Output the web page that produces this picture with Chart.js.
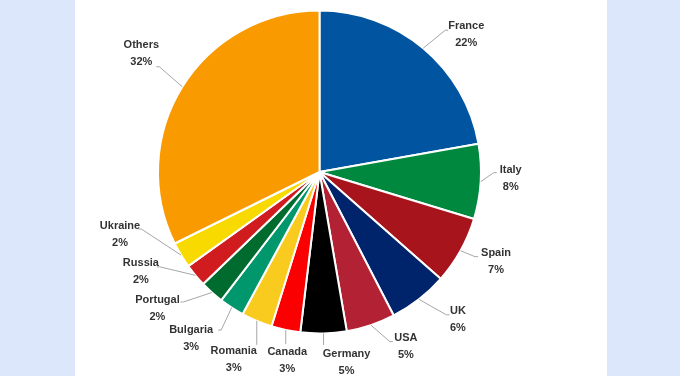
<!DOCTYPE html>
<html>
<head>
<meta charset="utf-8">
<script src="https://cdn.jsdelivr.net/npm/chart.js@4.4.1/dist/chart.umd.min.js"></script>
<style>
    html, body { margin: 0; padding: 0; }
    body { width: 680px; height: 376px; background: #dce7fb; position: relative; overflow: hidden; }
    #panel { position: absolute; left: 75px; top: 0; width: 532px; height: 376px; background: #ffffff; }
    #wrap { position: absolute; left: 0; top: 0; width: 680px; height: 376px; }
</style>
</head>
<body>
<div id="panel"></div>
<div id="wrap"><canvas id="pieChart" width="680" height="376"></canvas></div>
<script>
// Country names, clockwise from 12 o'clock
const countries = ['France', 'Italy', 'Spain', 'UK', 'USA', 'Germany', 'Canada',
    'Romania', 'Bulgaria', 'Portugal', 'Russia', 'Ukraine', 'Others'];
// Share of each slice as it is drawn
const shares = [22.2, 7.5, 6.8, 5.9, 4.9, 4.6, 2.9, 3.1, 2.5, 2.4, 2.3, 2.6, 32.3];
// Percent text printed in the labels
const shownPct = ['22%', '8%', '7%', '6%', '5%', '5%', '3%', '3%', '3%', '2%', '2%', '2%', '32%'];
const sliceColors = ['#0054a0', '#00893e', '#a8141c', '#00246b', '#b22234', '#000000', '#fb0000',
    '#f8cb1e', '#00976c', '#006b2e', '#d01c1f', '#f8da00', '#f99a00'];

// Label layout, relative to the slice's mid point on the rim:
// [leader end dx, dy, text centre dx, dy (first line)]
const labelLayout = [
    [22, -18, 43, -22],
    [13, -9, 30, -12],
    [14.5, 6, 35.5, 2],
    [27.5, 15.5, 39, 12],
    [19, 16.5, 35, 13],
    [0, 11.5, 23, 20.5],
    [0, 14, 1.5, 22.5],
    [0, 24, -23, 30],
    [-10.5, 22.5, -40.5, 22.5],
    [-28.5, 9.5, -54.5, 7],
    [-35.5, -8.5, -54.5, -12],
    [-39.5, -26, -61, -29],
    [-23, -20, -41, -41.5]
];

// Draws the outside labels with their grey leader lines
const leaderLabels = {
    id: 'leaderLabels',
    afterDatasetsDraw(chart) {
        const ctx = chart.ctx;
        const meta = chart.getDatasetMeta(0);
        ctx.save();
        ctx.font = 'bold 11px "Liberation Sans", Arial, sans-serif';
        ctx.textAlign = 'center';
        ctx.textBaseline = 'middle';
        meta.data.forEach((arc, i) => {
            const p = arc.getProps(['x', 'y', 'startAngle', 'endAngle', 'outerRadius'], true);
            const mid = (p.startAngle + p.endAngle) / 2;
            const ex = p.x + Math.cos(mid) * p.outerRadius;
            const ey = p.y + Math.sin(mid) * p.outerRadius;
            const [lx, ly, tx, ty] = labelLayout[i];

            ctx.strokeStyle = '#a6a6a6';
            ctx.lineWidth = 1;
            ctx.beginPath();
            ctx.moveTo(ex, ey);
            ctx.lineTo(ex + lx, ey + ly);
            if (lx !== 0) {
                ctx.lineTo(ex + lx + (lx > 0 ? 3 : -3), ey + ly);
            }
            ctx.stroke();

            ctx.fillStyle = '#333333';
            ctx.fillText(chart.data.labels[i], ex + tx, ey + ty);
            ctx.fillText(shownPct[i], ex + tx, ey + ty + 17);
        });
        ctx.restore();
    }
};

const chart = new Chart(document.getElementById('pieChart').getContext('2d'), {
    type: 'pie',
    data: {
        labels: countries,
        datasets: [{
            data: shares,
            backgroundColor: sliceColors,
            borderColor: '#ffffff',
            borderWidth: 2
        }]
    },
    options: {
        responsive: false,
        animation: false,
        events: [],
        rotation: 0,
        layout: {
            padding: { top: 9.5, bottom: 41.5, left: 0, right: 41 }
        },
        plugins: {
            legend: { display: false },
            tooltip: { enabled: false }
        }
    },
    plugins: [leaderLabels]
});
</script>
</body>
</html>
